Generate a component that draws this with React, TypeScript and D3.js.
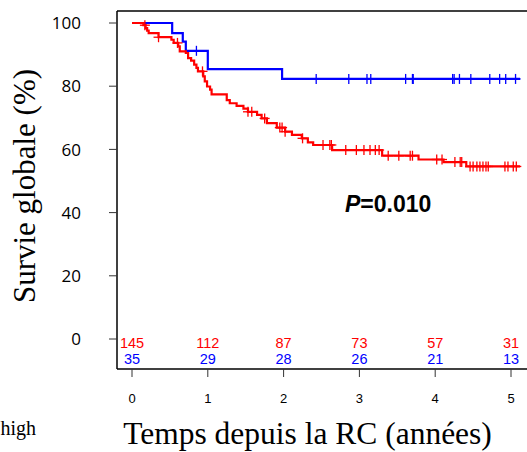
import React from "react";
import * as d3 from "d3";

// Red group (n=145): step drop times (years) and survival (%) after each drop
const redTimes = [0.15, 0.18, 0.2, 0.22, 0.35, 0.52, 0.55, 0.61, 0.63, 0.71, 0.74, 0.78, 0.82, 0.85, 0.87, 0.94, 0.96, 0.99, 1.03, 1.05, 1.25, 1.29, 1.38, 1.47, 1.53, 1.65, 1.71, 1.78, 1.91, 2.02, 2.11, 2.24, 2.32, 2.39, 2.64, 3.3, 3.78, 4.11, 4.41];
const redSurv = [99.3, 98.4, 97.6, 96.8, 95.5, 94.7, 93.7, 92.6, 91.0, 90.5, 88.9, 88.1, 86.8, 85.8, 84.7, 83.1, 81.5, 79.9, 78.9, 77.4, 75.6, 74.6, 73.8, 72.9, 71.9, 70.9, 69.8, 68.3, 66.9, 65.6, 64.6, 63.5, 62.2, 61.4, 59.8, 58.0, 56.8, 56.0, 54.6];
const redCensor = [0.17, 0.35, 0.6, 0.93, 1.53, 1.58, 1.75, 1.95, 1.98, 2.02, 2.25, 2.52, 2.61, 2.63, 2.82, 2.96, 3.06, 3.14, 3.21, 3.26, 3.38, 3.52, 3.67, 3.7, 4.02, 4.09, 4.26, 4.33, 4.35, 4.46, 4.5, 4.55, 4.59, 4.63, 4.67, 4.7, 4.92, 4.96, 5.03, 5.07];
const redEnd = 5.12;

// Blue group (n=35)
const blueTimes = [0.53, 0.67, 0.71, 1.0, 1.98];
const blueSurv = [96.8, 94.1, 91.2, 85.4, 82.3];
const blueCensor = [0.85, 2.43, 2.86, 3.1, 3.15, 3.61, 3.7, 3.71, 4.23, 4.25, 4.32, 4.47, 4.72, 4.85, 4.93, 5.06];
const blueEnd = 5.12;

// Numbers at risk
const riskTimes = [0, 1, 2, 3, 4, 5];
const redRisk = [145, 112, 87, 73, 57, 31];
const blueRisk = [35, 29, 28, 26, 21, 13];

const xTicks = [0, 1, 2, 3, 4, 5];
const yTicks = [0, 20, 40, 60, 80, 100];

const RED = "#ff0000";
const BLUE = "#0000ff";

const x = d3.scaleLinear().domain([0, 5]).range([132, 511]);
const y = d3.scaleLinear().domain([0, 100]).range([339, 23]);

function stepPoints(times: number[], surv: number[], end: number): [number, number][] {
  const pts: [number, number][] = [[0, 100]];
  times.forEach((t, i) => pts.push([t, surv[i]]));
  pts.push([end, surv[surv.length - 1]]);
  return pts;
}

function survAt(times: number[], surv: number[], t: number): number {
  let s = 100;
  for (let i = 0; i < times.length; i++) {
    if (times[i] <= t) s = surv[i];
  }
  return s;
}

const line = d3
  .line<[number, number]>()
  .x((d) => x(d[0]))
  .y((d) => y(d[1]))
  .curve(d3.curveStepAfter);

function Curve({ times, surv, end, censor, color }: any) {
  const d = line(stepPoints(times, surv, end)) || "";
  return (
    <g>
      <path d={d} fill="none" stroke={color} strokeWidth={2.2} />
      {censor.map((t: number, i: number) => {
        const cx = x(t);
        const cy = y(survAt(times, surv, t));
        return (
          <g key={i} stroke={color} strokeWidth={1.3}>
            <line x1={cx} x2={cx} y1={cy - 5} y2={cy + 5} />
            <line x1={cx - 5} x2={cx + 5} y1={cy} y2={cy} />
          </g>
        );
      })}
    </g>
  );
}

export default function App() {
  return (
    <svg
      width={527}
      height={452}
      style={{ position: "absolute", left: 0, top: 0, background: "#fff" }}
    >
      <rect x={0} y={0} width={527} height={452} fill="#fff" />
      {/* frame */}
      <line x1={117} x2={117} y1={11} y2={369} stroke="#000" strokeWidth={1.5} />
      <line x1={117} x2={527} y1={11} y2={11} stroke="#000" strokeWidth={1.5} />
      <line x1={117} x2={527} y1={369} y2={369} stroke="#000" strokeWidth={1.5} />

      {/* y ticks */}
      {yTicks.map((v) => (
        <g key={v}>
          <line x1={109} x2={117} y1={y(v)} y2={y(v)} stroke="#333" strokeWidth={1} />
          <text
            x={81}
            y={y(v)}
            dy="0.36em"
            textAnchor="end"
            fontFamily="Open Sans"
            fontSize={17}
            fill="#000"
          >
            {v}
          </text>
        </g>
      ))}

      {/* x ticks */}
      {xTicks.map((v) => (
        <g key={v}>
          <line x1={x(v)} x2={x(v)} y1={369} y2={377} stroke="#333" strokeWidth={1} />
          <text
            x={x(v)}
            y={403}
            textAnchor="middle"
            fontFamily="Liberation Sans"
            fontSize={13}
            fill="#000"
          >
            {v}
          </text>
        </g>
      ))}

      <Curve times={blueTimes} surv={blueSurv} end={blueEnd} censor={blueCensor} color={BLUE} />
      <Curve times={redTimes} surv={redSurv} end={redEnd} censor={redCensor} color={RED} />

      {/* numbers at risk */}
      {riskTimes.map((t, i) => (
        <g key={t} fontFamily="Liberation Sans" fontSize={14.5} textAnchor="middle">
          <text x={x(t)} y={347.5} fill={RED}>
            {redRisk[i]}
          </text>
          <text x={x(t)} y={363.5} fill={BLUE}>
            {blueRisk[i]}
          </text>
        </g>
      ))}

      {/* p value */}
      <text x={345} y={212} fontFamily="Liberation Sans" fontSize={23} fontWeight="bold" fill="#000">
        <tspan fontStyle="italic">P</tspan>=0.010
      </text>

      {/* axis titles */}
      <text
        transform="translate(35,186) rotate(-90)"
        textAnchor="middle"
        fontFamily="Liberation Serif"
        fontSize={31}
        fill="#000"
      >
        Survie globale (%)
      </text>
      <text
        x={307.5}
        y={444}
        textAnchor="middle"
        fontFamily="Liberation Serif"
        fontSize={31.5}
        fill="#000"
      >
        Temps depuis la RC (années)
      </text>
      <text x={36} y={435} textAnchor="end" fontFamily="Liberation Serif" fontSize={20} fill="#000">
        high
      </text>
    </svg>
  );
}
